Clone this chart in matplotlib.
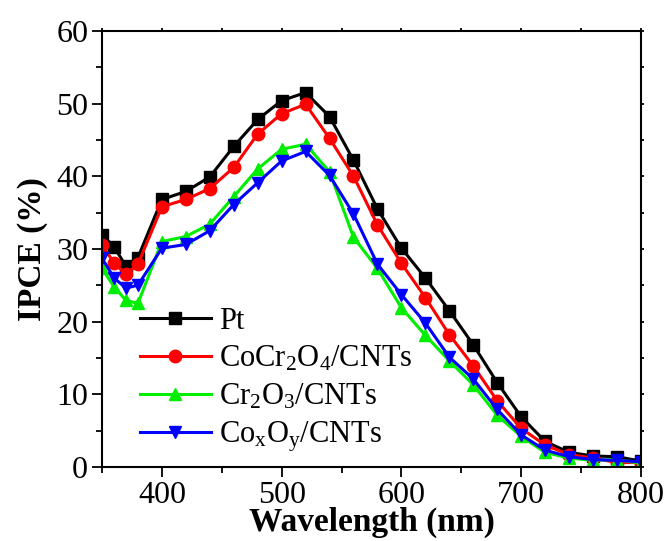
import matplotlib
matplotlib.use("Agg")
import matplotlib.pyplot as plt
from matplotlib.ticker import MultipleLocator

plt.rcParams['font.family'] = ['Liberation Serif', 'DejaVu Serif']
plt.rcParams['mathtext.default'] = 'regular'

wavelength = [350, 360, 370, 380, 400, 420, 440, 460, 480, 500, 520, 540, 560,
              580, 600, 620, 640, 660, 680, 700, 720, 740, 760, 780, 800]

pt = [31.9, 30.3, 27.6, 28.8, 36.8, 37.9, 39.9, 44.1, 47.8, 50.4, 51.5, 48.2, 42.2,
      35.5, 30.1, 26.0, 21.5, 16.8, 11.6, 6.9, 3.5, 2.0, 1.5, 1.4, 0.8]
cocr2o4 = [30.5, 28.1, 26.5, 27.9, 35.8, 36.8, 38.3, 41.2, 45.8, 48.6, 49.9, 45.2, 40.0,
           33.3, 28.0, 23.3, 18.2, 13.9, 9.1, 5.3, 3.0, 1.7, 1.2, 0.6, 0.6]
cr2o3 = [27.3, 24.8, 22.9, 22.5, 31.0, 31.7, 33.4, 37.2, 41.0, 43.7, 44.4, 40.6, 31.6,
         27.3, 21.9, 18.1, 14.6, 11.3, 7.1, 4.2, 2.0, 1.2, 0.9, 1.0, 0.5]
coxoy = [28.7, 26.0, 24.6, 25.0, 30.1, 30.6, 32.5, 36.1, 39.1, 42.1, 43.4, 40.1, 34.8,
         27.9, 23.7, 19.8, 15.1, 12.1, 7.9, 4.4, 2.3, 1.4, 1.0, 0.9, 0.7]

labels = ['Pt', r'CoCr$_2$O$_4$/CNTs', r'Cr$_2$O$_3$/CNTs', r'Co$_x$O$_y$/CNTs']

fig = plt.figure(figsize=(6.69, 5.41), dpi=100)
ax = fig.add_axes([0.1525, 0.137, 0.8055, 0.806])

ax.plot(wavelength, pt, color='black', marker='s', ms=8, lw=2.2, label=labels[0])
ax.plot(wavelength, cocr2o4, color='red', marker='o', ms=9, lw=2.2, label=labels[1])
ax.plot(wavelength, cr2o3, color='#00ee00', marker='^', ms=9, lw=2.2, label=labels[2])
ax.plot(wavelength, coxoy, color='blue', marker='v', ms=9, lw=2.2, label=labels[3])

ax.set_xlim(350, 800)
ax.set_ylim(0, 60)
ax.xaxis.set_major_locator(MultipleLocator(100))
ax.xaxis.set_minor_locator(MultipleLocator(50))
ax.yaxis.set_major_locator(MultipleLocator(10))
ax.yaxis.set_minor_locator(MultipleLocator(5))

ax.tick_params(axis='both', which='major', direction='out', length=7, width=1.3,
               labelsize=23, pad=3)
ax.tick_params(axis='both', which='minor', direction='out', length=4, width=1.3)
ax.tick_params(top=True, right=True, which='both')
# short ticks on the top and right spines
for t in ax.xaxis.get_ticklines(minor=False)[1::2] + ax.xaxis.get_ticklines(minor=True)[1::2]:
    t.set_markersize(2.5)
for t in ax.yaxis.get_ticklines(minor=False)[1::2] + ax.yaxis.get_ticklines(minor=True)[1::2]:
    t.set_markersize(2.5)

for s in ax.spines.values():
    s.set_linewidth(1.5)

ax.set_xlabel('Wavelength (nm)', fontsize=24, fontweight='bold', labelpad=-2)
ax.set_ylabel('IPCE (%)', fontsize=24, fontweight='bold', labelpad=6)

leg = ax.legend(loc='lower left', bbox_to_anchor=(0.03, -0.02), frameon=False,
                fontsize=22, handlelength=2.35, handletextpad=0.25,
                labelspacing=0.27, borderaxespad=0.3)

fig.savefig('out.png', dpi=100)
